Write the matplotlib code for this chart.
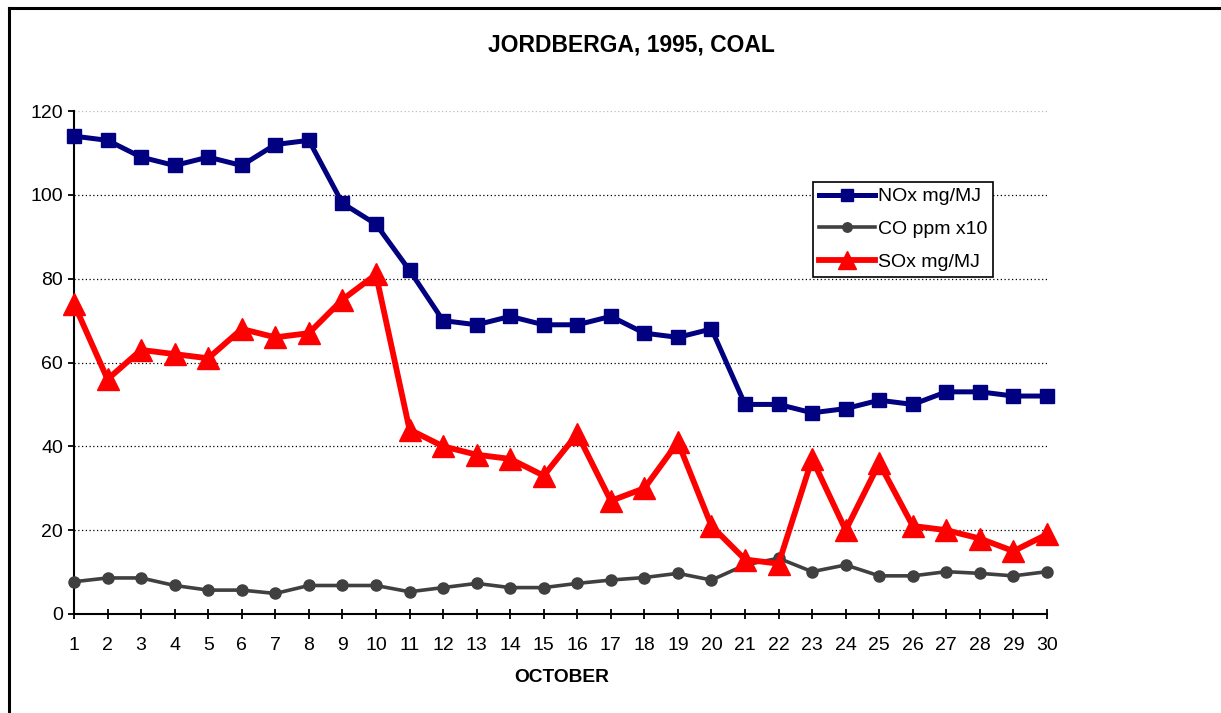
import matplotlib
matplotlib.use("Agg")
import matplotlib.pyplot as plt
from matplotlib.lines import Line2D

plt.rcParams['font.family'] = ['Liberation Sans', 'DejaVu Sans']

days = list(range(1, 31))
nox = [114, 113, 109, 107, 109, 107, 112, 113, 98, 93, 82, 70, 69, 71, 69,
       69, 71, 67, 66, 68, 50, 50, 48, 49, 51, 50, 53, 53, 52, 52]
co = [7.7, 8.6, 8.6, 6.8, 5.7, 5.7, 4.9, 6.8, 6.8, 6.8, 5.3, 6.3, 7.3, 6.3, 6.3,
      7.3, 8.1, 8.7, 9.7, 8.1, 11.7, 13.3, 10.1, 11.7, 9.1, 9.1, 10.1, 9.7, 9.1, 10.1]
sox = [74, 56, 63, 62, 61, 68, 66, 67, 75, 81, 44, 40, 38, 37, 33,
       43, 27, 30, 41, 21, 13, 12, 37, 20, 36, 21, 20, 18, 15, 19]
series_labels = ['NOx mg/MJ', 'CO ppm x10', 'SOx mg/MJ']
yticks = [0, 20, 40, 60, 80, 100, 120]
title = 'JORDBERGA, 1995, COAL'
xlabel = 'OCTOBER'

fig = plt.figure(figsize=(12.21, 7.13), dpi=100)
ax = fig.add_axes([74/1221, 1-614/713, (1047-74)/1221, (614-111)/713])

# gridlines
for yv in yticks[1:-1]:
    ax.axhline(yv, color='black', linestyle=(0, (1, 2)), linewidth=0.9, zorder=1)
ax.axhline(yticks[-1], color='#bbbbbb', linestyle=(0, (1, 2)), linewidth=0.9, zorder=1)

l1, = ax.plot(days, nox, color='#000080', linewidth=3.6, marker='s', markersize=10.5,
              label=series_labels[0], zorder=3, clip_on=False)
l2, = ax.plot(days, co, color='#404040', linewidth=2.6, marker='o', markersize=8,
              label=series_labels[1], zorder=3, clip_on=False)
l3, = ax.plot(days, sox, color='#ff0000', linewidth=4.2, marker='^', markersize=15.5,
              label=series_labels[2], zorder=4, clip_on=False)

ax.set_xlim(1, 30)
ax.set_ylim(0, 120)
ax.set_xticks(days)
ax.set_xticklabels([str(d) for d in days])
ax.set_yticks(yticks)
ax.tick_params(axis='x', direction='inout', length=7, width=1.3, pad=13, labelsize=14)
ax.tick_params(axis='y', direction='out', length=4, width=1.3, pad=4, labelsize=14)
for s in ['top', 'right']:
    ax.spines[s].set_visible(False)
for s in ['left', 'bottom']:
    ax.spines[s].set_linewidth(1.5)

leg = ax.legend(handles=[l1, l2, l3], loc='upper left',
                bbox_to_anchor=((813-74)/(1047-74), 1-(182-111)/(614-111)),
                frameon=True, fancybox=False, edgecolor='black', framealpha=1,
                fontsize=14, handlelength=2.9, handletextpad=0.15,
                borderpad=0.3, labelspacing=0.78, borderaxespad=0)
leg.get_frame().set_linewidth(1.2)
for h in leg.legend_handles:
    h.set_markersize(h.get_markersize() * 0.85)

fig.text(631/1221, 1-45/713, title, ha='center', va='center', fontsize=16.5, fontweight='bold')
fig.text(562/1221, 1-677/713, xlabel, ha='center', va='center', fontsize=13.8, fontweight='bold')

# outer frame (top and left edges visible)
fig.add_artist(Line2D([9/1221, 1.0], [1-8/713, 1-8/713], color='black', linewidth=2.2,
                      transform=fig.transFigure))
fig.add_artist(Line2D([9/1221, 9/1221], [0, 1-8/713], color='black', linewidth=2.2,
                      transform=fig.transFigure))

fig.savefig('out.png', dpi=100)
